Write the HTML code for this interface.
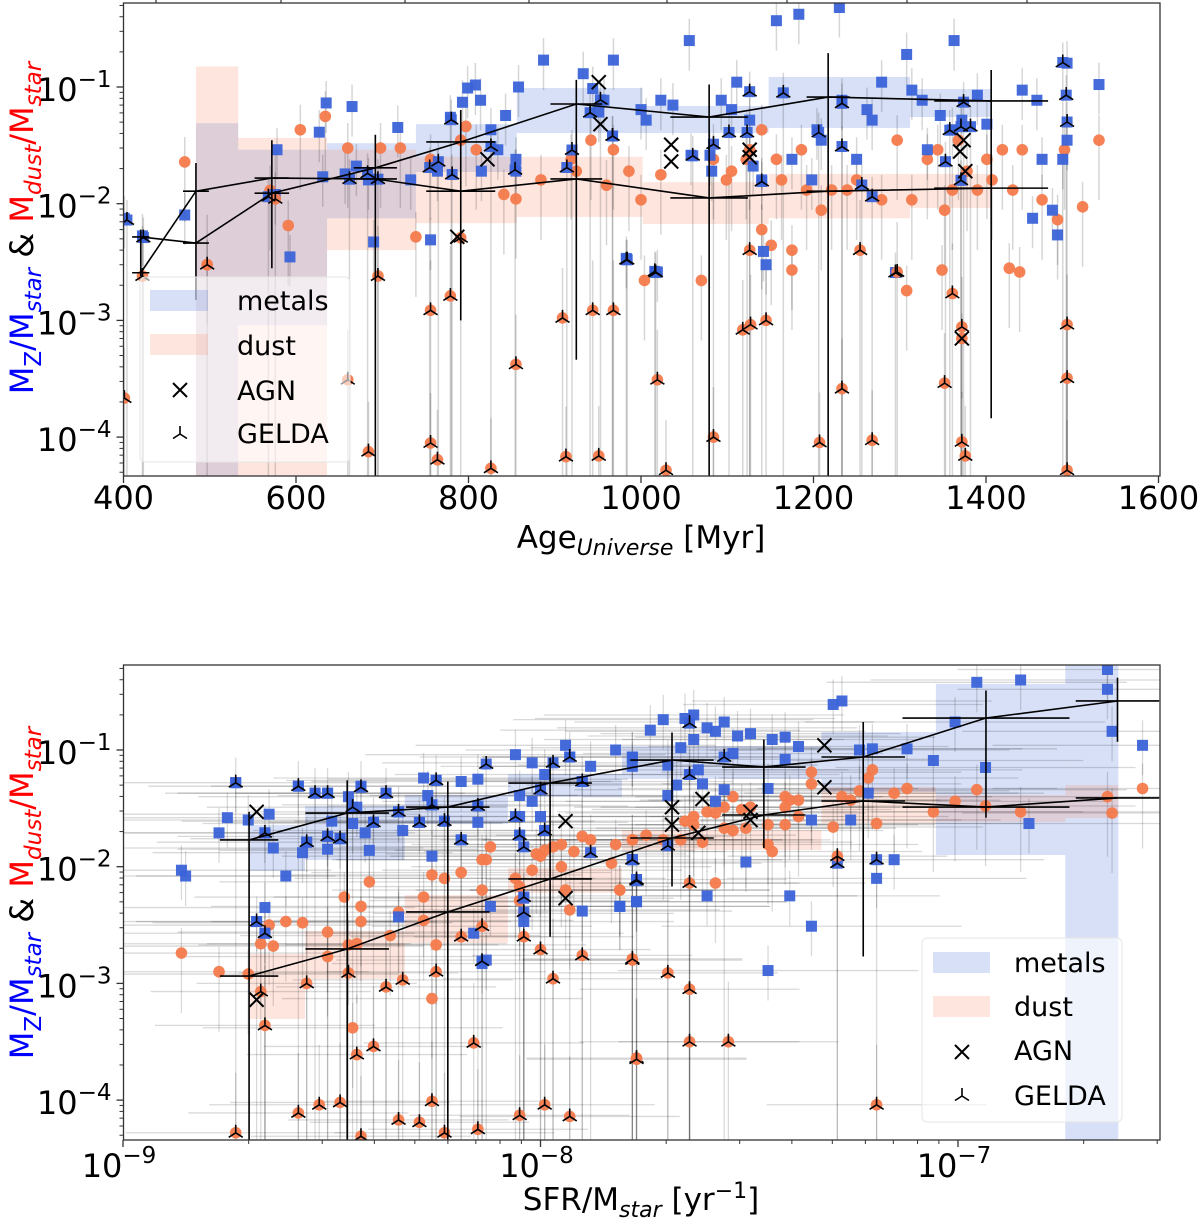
<!DOCTYPE html>
<html><head><meta charset="utf-8">
<style>
html,body{margin:0;padding:0;background:#fff;}
svg{display:block;font-family:"DejaVu Sans","Liberation Sans",sans-serif;}
</style></head>
<body>
<svg id="fig" width="1200" height="1221" viewBox="0 0 1200 1221" xmlns="http://www.w3.org/2000/svg">
<g id="top"></g>
<g id="bot"></g>
</svg>
<script>
// ===== TOP PANEL DATA (age in Myr, ratio values) =====
const topBlueAge=[401,422,471,578,576,593,631,635,657,670,684,690,718,733,756,779,764,793,814,815,826,834,855,855,843,858,944,933,951,957,968,983,1000,1006,1019,1023,1037,1056,1058,1080,1082,1093,1105,1111,1126,1130,1140,1142,1145,1157,1175,1183,1198,1204,1209,1230,1233,1250,1262,1268,1279,1308,1314,1326,1332,1347,1361,1363,1372,1390,1401,1442,1459,1465,1454,1477,1483,1489,1494,1531,1494,627,665,887,799,808];
const topBlueVal=[.0075,.0053,.008,.029,.012,.0035,.017,.073,.018,.021,.016,.0047,.045,.016,.0049,.055,.019,.074,.077,.019,.043,.029,.024,.019,.057,.1,.097,.13,.061,.077,.17,.0034,.064,.052,.0026,.077,.07,.25,.026,.026,.019,.077,.064,.11,.052,.021,.016,.0039,.003,.37,.024,.42,.016,.043,.035,.48,.077,.024,.064,.052,.11,.19,.094,.077,.029,.057,.043,.25,.052,.085,.048,.094,.077,.024,.0075,.0088,.0054,.024,.035,.105,.16,.041,.068,.17,.098,.104];
const topDustAge=[471,497,570,591,605,634,660,698,721,739,756,791,797,809,841,855,884,919,925,942,960,968,986,1000,1004,1023,1070,1084,1099,1122,1140,1151,1163,1175,1186,1192,1221,1239,1250,1279,1297,1314,1332,1344,1349,1361,1372,1378,1390,1401,1407,1419,1427,1431,1442,1465,1483,1491,1512,1531,1105,1126,1140,1157,1175,1209,1308,1352,1439,1368];
const topDustVal=[.0228,.003,.013,.0065,.043,.056,.03,.03,.03,.0052,.024,.035,.046,.029,.012,.011,.016,.024,.019,.035,.0144,.029,.019,.0108,.0022,.0177,.0022,.024,.016,.024,.006,.0044,.016,.004,.029,.0131,.0131,.0131,.016,.0108,.035,.0108,.024,.029,.0027,.0131,.0007,.019,.0131,.024,.016,.029,.0028,.0131,.029,.0108,.0073,.029,.0094,.035,.019,.029,.043,.024,.0027,.0088,.0018,.0088,.0026,.035];
const topGeldaAge=[401,422,497,576,660,684,695,756,756,764,779,791,826,855,909,913,944,951,968,1019,1029,1084,1118,1127,1145,1126,1207,1233,1254,1268,1297,1361,1372,1352,1372,1376,1494,1494,1494];
const topGeldaVal=[.000216,.0024,.003,.011,.00031,.000075,.0024,.00122,.000089,.000064,.00162,.0051,.000054,.00042,.00105,.000068,.00122,.000069,.00122,.00031,.000052,.0001,.00083,.00092,.001,.004,.00009,.00026,.004,.000094,.0026,.0017,.00088,.00029,.000091,.000069,.00092,.00032,.000052];
const topTriAge=[404,423,568,662,683,695,755,765,780,781,826,854,914,920,941,953,967,983,1016,967,984,1017,1060,1084,1102,1123,1126,1140,1165,1206,1233,1233,1256,1268,1295,1358,1371,1382,1374,1371,1353,1489,1493,1494];
const topTriLog=[-2.14,-2.29,-1.94,-1.79,-1.74,-1.79,-1.69,-1.64,-1.28,-1.75,-1.51,-1.71,-1.69,-1.54,-1.22,-1.11,-1.42,-2.48,-2.58,-1.42,-2.48,-2.59,-1.59,-1.49,-1.39,-1.39,-1.04,-1.81,-1.05,-1.39,-1.14,-1.51,-1.84,-1.94,-2.59,-1.37,-1.34,-1.34,-1.13,-1.80,-1.64,-0.79,-1.07,-1.30];
const topAgnAge=[787,822,951,953,1035,1035,1126,1126,1370,1374,1376,1372];
const topAgnVal=[.0052,.024,.11,.048,.032,.023,.029,.025,.028,.035,.019,.0007];
// binned bands
const topBinLo=[484,533,636,739,856,1002,1148,1312];
const topBinHi=[533,636,739,856,1002,1148,1312,1406];
const topMetLo=[.000046,.00091,.0075,.0187,.0403,.0403,.0446,.0553];
const topMetHi=[.049,.029,.033,.048,.098,.0688,.122,.096];
const topDustLo=[.000046,.000046,.004,.0068,.0077,.0067,.0075,.0092];
const topDustHi=[.15,.0366,.029,.0252,.0252,.0153,.018,.018];
// medians
const topMedAge=[420,484,572,692,791,925,1079,1217,1406];
const topMedMet=[.00519,.0046,.0123,.0203,.0338,.0715,.0553,.082,.0759];
const topMedDust=[.00256,.0128,.0166,.0163,.0128,.0163,.0112,.0128,.0136];
const topMedErrLo=[.0024,.0015,.0028,.000046,.001,.00046,.000046,.000046,.000145];
const topMedErrHi=[.006,.0223,.035,.039,.0635,.115,.105,.195,.14];
const topMedXerr=[10,15,20,25,40,30,45,25,66];
const topXTicks=[400,600,800,1000,1200,1400,1600];

// ===== BOTTOM PANEL DATA (log10 sSFR, log10 ratio) =====
const botBlueX=[-8.86,-8.85,-8.77,-8.75,-8.73,-8.70,-8.65,-8.66,-8.64,-8.61,-8.58,-8.57,-8.56,-8.54,-8.51,-8.51,-8.51,-8.48,-8.50,-8.46,-8.44,-8.43,-8.45,-8.42,-8.41,-8.40,-8.37,-8.34,-8.33,-8.29,-8.28,-8.27,-8.25,-8.26,-8.23,-8.26,-8.19,-8.15,-8.15,-8.19,-8.15,-8.06,-8.05,-8.02,-8.05,-8.05,-8.00,-7.99,-8.02,-7.99,-7.94,-7.93,-7.90,-7.88,-7.82,-7.78,-7.78,-8.66,-8.68,-8.66,-8.12,-8.13,-8.14,-7.81,-8.04,-8.04,-7.90,-7.77,-7.77,-8.34,-8.16,
-7.706,-7.654,-7.633,-7.601,-7.581,-7.560,-7.528,-7.497,-7.737,-7.664,-7.633,-7.78,-7.78,-7.695,-7.539,-7.643,-7.622,-7.674,-7.612,-7.560,-7.695,-7.581,-7.445,-7.414,-7.382,-7.414,-7.455,-7.299,-7.278,-7.236,-7.205,-7.122,-7.059,-7.007,-6.955,-6.850,-6.642,-6.642,-6.631,-6.558,-6.934,-7.215,-7.351,-7.257,-7.508,-7.403,-7.351,-7.455,-7.601,-7.77,-7.81,-7.153,-7.195,-6.830];
const botBlueY=[-2.03,-2.08,-1.71,-1.58,-1.28,-1.60,-1.55,-1.71,-1.84,-2.08,-1.31,-1.88,-1.79,-1.37,-1.37,-1.85,-1.74,-1.76,-1.61,-1.40,-1.49,-1.31,-1.63,-1.71,-1.86,-1.62,-1.37,-1.53,-1.69,-1.62,-1.24,-1.39,-1.26,-1.47,-1.61,-1.91,-1.27,-1.25,-1.62,-1.77,-1.48,-1.04,-1.39,-1.44,-1.57,-1.73,-1.57,-1.69,-1.11,-1.21,-0.96,-1.06,-1.27,-1.14,-1.00,-1.06,-1.94,-2.35,-2.47,-2.57,-2.34,-2.80,-2.83,-2.34,-2.27,-2.47,-2.38,-2.11,-2.30,-2.43,-2.57,
-0.74,-0.73,-0.70,-0.81,-0.84,-0.76,-0.88,-0.86,-0.83,-0.98,-0.91,-1.06,-1.14,-1.13,-1.03,-1.21,-1.17,-1.30,-1.29,-1.34,-1.39,-1.44,-0.91,-0.89,-0.97,-1.08,-1.33,-0.61,-0.58,-1.00,-0.99,-0.99,-1.09,-0.76,-0.42,-0.40,-0.31,-0.48,-0.84,-0.96,-1.15,-1.37,-1.60,-1.60,-1.96,-2.25,-2.51,-2.89,-2.25,-2.30,-2.34,-1.94,-2.10,-1.63];
const botDustX=[-8.86,-8.77,-8.70,-8.67,-8.64,-8.65,-8.61,-8.57,-8.51,-8.51,-8.47,-8.46,-8.44,-8.43,-8.43,-8.41,-8.36,-8.34,-8.28,-8.28,-8.26,-8.25,-8.26,-8.23,-8.19,-8.14,-8.14,-8.13,-8.12,-8.06,-8.05,-8.02,-8.01,-7.99,-7.97,-7.95,-7.94,-7.95,-7.90,-7.88,-7.92,-7.82,-7.83,-7.81,-7.78,-7.93,-8.05,-8.04,-8.45,-8.00,
-7.78,-7.747,-7.706,-7.664,-7.633,-7.601,-7.581,-7.560,-7.539,-7.518,-7.560,-7.539,-7.654,-7.633,-7.612,-7.497,-7.508,-7.455,-7.414,-7.414,-7.403,-7.382,-7.382,-7.414,-7.455,-7.445,-7.351,-7.351,-7.299,-7.278,-7.257,-7.236,-7.215,-7.205,-7.195,-7.153,-7.122,-7.059,-7.007,-6.955,-6.934,-6.850,-6.642,-6.631,-6.558,-7.581,-7.81];
const botDustY=[-2.74,-2.90,-2.92,-2.66,-2.68,-2.50,-2.47,-2.48,-2.77,-2.56,-2.26,-2.67,-2.66,-2.47,-2.34,-2.13,-2.59,-2.39,-2.26,-2.46,-2.07,-2.67,-3.13,-2.10,-2.05,-2.20,-1.94,-1.94,-1.83,-2.10,-2.17,-2.03,-1.89,-1.86,-1.83,-2.00,-2.20,-1.81,-1.74,-1.77,-1.87,-1.81,-1.97,-2.20,-1.77,-2.37,-2.29,-2.40,-3.38,-1.91,
-1.77,-1.73,-1.77,-1.77,-1.57,-1.53,-1.54,-1.49,-1.40,-1.51,-1.67,-1.69,-1.61,-1.64,-1.79,-1.49,-1.67,-1.64,-1.64,-1.40,-1.43,-1.43,-1.57,-1.49,-1.81,-1.87,-1.19,-1.29,-1.66,-1.40,-1.43,-1.35,-1.24,-1.17,-1.63,-1.37,-1.33,-1.53,-1.44,-1.34,-1.48,-1.53,-1.40,-1.54,-1.33,-2.14,-2.20];
const botGeldaX=[-8.73,-8.66,-8.67,-8.58,-8.56,-8.53,-8.48,-8.46,-8.44,-8.40,-8.37,-8.34,-8.33,-8.29,-8.26,-8.25,-8.23,-8.16,-8.15,-8.05,-8.04,-8.00,-7.99,-7.97,-7.93,-7.90,-7.78,-7.77,-8.14,-8.19,-8.43,-7.78,-7.695,-7.643,-7.643,-7.550,-7.77,-7.643,-7.195,-7.289];
const botGeldaY=[-4.28,-3.36,-3.07,-4.11,-3.00,-4.04,-4.02,-2.91,-3.61,-3.54,-3.03,-4.17,-2.97,-4.19,-4.01,-2.90,-4.28,-3.51,-4.25,-4.13,-2.60,-2.71,-4.04,-2.96,-4.14,-2.76,-2.80,-3.64,-2.51,-2.60,-4.31,-2.79,-2.91,-3.05,-3.50,-3.50,-3.65,-2.14,-4.04,-1.91];
const botTriX=[-8.73,-8.58,-8.54,-8.51,-8.43,-8.37,-8.45,-8.34,-8.40,-8.29,-8.25,-8.26,-8.23,-8.15,-8.13,-8.19,-8.06,-8.05,-7.99,-7.97,-7.93,-8.00,-7.90,-7.88,-7.78,-7.77,-8.66,-8.56,-8.51,-8.48,-8.68,-8.66,-8.04,-8.14,-8.04,-8.04,-7.643,-7.560,-7.643,-7.78,-7.77,-7.289,-7.195,-7.695];
const botTriY=[-1.28,-1.31,-1.37,-1.37,-1.32,-1.37,-1.49,-1.53,-1.62,-1.62,-1.26,-1.47,-1.61,-1.48,-1.12,-1.77,-1.57,-1.73,-1.69,-1.11,-1.06,-1.34,-1.27,-1.88,-1.94,-2.11,-1.71,-1.79,-1.74,-1.76,-2.47,-2.57,-1.83,-2.81,-2.26,-2.39,-0.77,-1.06,-1.21,-1.94,-2.12,-1.97,-1.94,-1.82];
const botAgnX=[-8.68,-8.68,-7.94,-7.94,-7.320,-7.320,-7.685,-7.612,-7.685,-7.622,-7.497,-7.497];
const botAgnY=[-1.53,-3.14,-1.61,-2.27,-0.96,-1.32,-1.49,-1.42,-1.64,-1.71,-1.53,-1.60];
const botBinLo=[-8.696,-8.564,-8.325,-8.078,-7.805,-7.327,-7.053,-6.743];
const botBinHi=[-8.564,-8.325,-8.078,-7.805,-7.327,-7.053,-6.743,-6.616];
const botMetLo=[-2.037,-1.943,-1.634,-1.403,-1.249,-1.36,-1.9,-4.342];
const botMetHi=[-1.643,-1.48,-1.386,-1.206,-0.966,-0.846,-0.434,-0.272];
const botDustLo=[-3.305,-2.962,-2.654,-2.225,-1.857,-1.626,-1.617,-1.583];
const botDustHi=[-2.748,-2.551,-2.243,-2.011,-1.686,-1.317,-1.386,-1.3];
const botMedX=[-8.698,-8.463,-8.222,-7.977,-7.685,-7.465,-7.227,-6.933,-6.618];
const botMedMet=[-1.771,-1.54,-1.489,-1.283,-1.086,-1.146,-1.06,-0.726,-0.58];
const botMedDust=[-2.937,-2.705,-2.388,-2.105,-1.754,-1.557,-1.437,-1.489,-1.411];
const botMedErrLo=[-4.34,-4.34,-4.34,-2.6,-2.17,-1.84,-2.77,-1.58,-0.93];
const botMedErrHi=[-1.53,-1.26,-1.27,-1.07,-0.85,-0.91,-0.76,-0.49,-0.38];
const botMedXerr=[0.07,0.1,0.1,0.1,0.1,0.1,0.1,0.2,0.1];
const botXTicks=[-9,-8,-7];
const yTicks=[-1,-2,-3,-4];

const NS="http://www.w3.org/2000/svg";
function mk(parent,tag,attrs){const e=document.createElementNS(NS,tag);for(const k in attrs)e.setAttribute(k,attrs[k]);parent.appendChild(e);return e;}

const BLUE="#3b63d9",ORANGE="#f47a4c";
const BANDB="rgba(100,135,225,0.26)",BANDO="rgba(250,140,110,0.22)";

function drawPanel(g,cfg){
  const {L,R,T,B}=cfg;
  const cid="clip"+cfg.id;
  const defs=mk(g,"defs",{});const cp=mk(defs,"clipPath",{id:cid});mk(cp,"rect",{x:L,y:T,width:R-L,height:B-T});
  const plot=mk(g,"g",{"clip-path":"url(#"+cid+")"});
  
  
  return plot;
}
function tri(parent,x,y){
  const t=mk(parent,"path",{d:`M${x},${y}L${x},${y-8}M${x},${y}L${x-7},${y+4.5}M${x},${y}L${x+7},${y+4.5}`,stroke:"#000","stroke-width":1.6,fill:"none"});
  
  
}
function cross(parent,x,y){
  const c=mk(parent,"path",{d:`M${x-7},${y-7}L${x+7},${y+7}M${x-7},${y+7}L${x+7},${y-7}`,stroke:"#000","stroke-width":2,fill:"none"});
  
  
}
function sq(parent,x,y){
  const s=mk(parent,"rect",{x:x-5.5,y:y-5.5,width:11,height:11,fill:BLUE,"fill-opacity":0.95});
  
  
}
function circ(parent,x,y){
  const c=mk(parent,"circle",{cx:x,cy:y,r:5.8,fill:ORANGE,"fill-opacity":0.95});
  
  
}
function line(parent,x1,y1,x2,y2,st,w){return mk(parent,"line",{x1,y1,x2,y2,stroke:st,"stroke-width":w});}
function frameAxes(g,L,R,T,B){
  const f=mk(g,"rect",{x:L,y:T,width:R-L,height:B-T,fill:"none",stroke:"#333","stroke-width":1.3});
  
  
}
function yAxis(g,L,ys,T,B){
  for(let d=-5;d<=0;d++){
    for(let m=2;m<=9;m++){const v=d+Math.log10(m);const y=ys(v);if(y>T&&y<B){line(g,L-4,y,L,y,"#333",1);}}
  }
  yTicks.forEach(t=>{const y=ys(t);line(g,L-7,y,L,y,"#333",1.3);
    const tx=mk(g,"text",{x:L-12,y:y+14,"text-anchor":"end","font-size":32});
    
    
    const a=mk(tx,"tspan",{});a.textContent="10";
    const b=mk(tx,"tspan",{dy:-14,"font-size":23});b.textContent="\u2212"+(-t);
  });
}
function yTitle(g,cx,cy){
  const tx=mk(g,"text",{x:0,y:0,"text-anchor":"middle","font-size":32,transform:`translate(${cx},${cy}) rotate(-90)`});
  
  
  const parts=[["M","#0000ff",0,0],["Z","#0000ff",8,1],["/M","#0000ff",-8,0],["star","#0000ff",8,2],[" & ","#000",-8,0],["M","#ff0000",0,0],["dust","#ff0000",8,2],["/M","#ff0000",-8,0],["star","#ff0000",8,2]];
  parts.forEach(p=>{const s=mk(tx,"tspan",{fill:p[1],dy:p[2]});if(p[3]){s.setAttribute("font-size",23);}if(p[3]===2)s.setAttribute("font-style","italic");s.textContent=p[0];});
}

// ================= TOP =================
(function(){
  const g=document.getElementById("top");
  const L=123.5,R=1160,T=3,B=476;
  const xs=a=>L+(a-400)*172.5/200;
  const ysl=l=>87-(l+1)*116.7;
  const ys=v=>ysl(Math.log10(v));
  const plot=drawPanel(g,{L,R,T,B,id:"t"});
  topBinLo.forEach((lo,i)=>{
    const r1=mk(plot,"rect",{x:xs(lo),width:xs(topBinHi[i])-xs(lo),y:ys(topMetHi[i]),height:ys(topMetLo[i])-ys(topMetHi[i]),fill:BANDB});
    
    
    const r2=mk(plot,"rect",{x:xs(lo),width:xs(topBinHi[i])-xs(lo),y:ys(topDustHi[i]),height:ys(topDustLo[i])-ys(topDustHi[i]),fill:BANDO});
    
    
  });
  const eg=mk(plot,"g",{stroke:"rgba(0,0,0,0.16)","stroke-width":1.5});
  topBlueAge.forEach((a,i)=>{const y=ys(topBlueVal[i]);line(eg,xs(a),y-22,xs(a),y+30);});
  topDustAge.forEach((a,i)=>{const y=ys(topDustVal[i]);line(eg,xs(a),y-25,xs(a),y+60);});
  topGeldaAge.forEach((a,i)=>{const y=ys(topGeldaVal[i]);line(eg,xs(a),y-50,xs(a),B);});
  topTriAge.forEach((a,i)=>{const y=ysl(topTriLog[i]);line(eg,xs(a),y-20,xs(a),B);});
  topDustAge.forEach((a,i)=>circ(plot,xs(a),ys(topDustVal[i])));
  topBlueAge.forEach((a,i)=>sq(plot,xs(a),ys(topBlueVal[i])));
  topTriAge.forEach((a,i)=>sq(plot,xs(a),ysl(topTriLog[i])));
  topGeldaAge.forEach((a,i)=>{circ(plot,xs(a),ys(topGeldaVal[i]));tri(plot,xs(a),ys(topGeldaVal[i]));});
  topTriAge.forEach((a,i)=>tri(plot,xs(a),ysl(topTriLog[i])));
  topAgnAge.forEach((a,i)=>cross(plot,xs(a),ys(topAgnVal[i])));
  const mg=mk(plot,"g",{stroke:"#000","stroke-width":1.6,fill:"none"});
  
  
  topMedAge.forEach((a,i)=>{
    line(mg,xs(a),ys(topMedErrHi[i]),xs(a),ys(topMedErrLo[i]));
    line(mg,xs(a-topMedXerr[i]),ys(topMedMet[i]),xs(a+topMedXerr[i]),ys(topMedMet[i]));
    line(mg,xs(a-topMedXerr[i]),ys(topMedDust[i]),xs(a+topMedXerr[i]),ys(topMedDust[i]));
  });
  mk(mg,"polyline",{points:topMedAge.map((a,i)=>xs(a)+","+ys(topMedMet[i])).join(" ")});
  mk(mg,"polyline",{points:topMedAge.map((a,i)=>xs(a)+","+ys(topMedDust[i])).join(" ")});
  frameAxes(g,L,R,T,B);
  topXTicks.forEach(t=>{const x=xs(t);line(g,x,B,x,B+7,"#333",1.3);
    const tx=mk(g,"text",{x:x,y:B+33,"text-anchor":"middle","font-size":32});tx.textContent=t;
    
    });
  [156,281,405,529,667,787,907,1027].forEach(x=>line(g,x,T,x,T-4,"#333",1.2));
  yAxis(g,L,ysl,T,B);
  const xl=mk(g,"text",{x:641,y:548,"text-anchor":"middle","font-size":31});
  
  
  xl.innerHTML='Age<tspan font-size="22" font-style="italic" dy="7">Universe</tspan><tspan dy="-7"> [Myr]</tspan>';
  yTitle(g,33,228);
  const lg=mk(g,"g",{});
  
  
  mk(lg,"rect",{x:140,y:277,width:210,height:185,rx:5,fill:"rgba(255,255,255,0.6)",stroke:"#e6e6e6"});
  mk(lg,"rect",{x:150,y:290,width:58,height:21,fill:BANDB});
  mk(lg,"rect",{x:150,y:334,width:58,height:21,fill:BANDO});
  cross(lg,180,390);tri(lg,180,434);
  [["metals",300],["dust",345],["AGN",390],["GELDA",433]].forEach(e=>{const t=mk(lg,"text",{x:237,y:e[1]+10,"font-size":27});t.textContent=e[0];
    
    });
})();

// ================= BOTTOM =================
(function(){
  const g=document.getElementById("bot");
  const L=123.5,R=1160,T=665,B=1140;
  const xs=l=>123+(l+9)*417.5;
  const ys=l=>750-(l+1)*116.7;
  const plot=drawPanel(g,{L,R,T,B,id:"b"});
  botBinLo.forEach((lo,i)=>{
    const r1=mk(plot,"rect",{x:xs(lo),width:xs(botBinHi[i])-xs(lo),y:ys(botMetHi[i]),height:ys(botMetLo[i])-ys(botMetHi[i]),fill:BANDB});
    
    
    const r2=mk(plot,"rect",{x:xs(lo),width:xs(botBinHi[i])-xs(lo),y:ys(botDustHi[i]),height:ys(botDustLo[i])-ys(botDustHi[i]),fill:BANDO});
    
    
  });
  const eg=mk(plot,"g",{stroke:"rgba(0,0,0,0.15)","stroke-width":1.3});
  botBlueX.forEach((x,i)=>{const px=xs(x),py=ys(botBlueY[i]);line(eg,px-150,py,px+150,py);line(eg,px,py-25,px,py+30);});
  botDustX.forEach((x,i)=>{const px=xs(x),py=ys(botDustY[i]);line(eg,px-150,py,px+150,py);line(eg,px,py-25,px,py+60);});
  botGeldaX.forEach((x,i)=>{const px=xs(x),py=ys(botGeldaY[i]);line(eg,px-110,py,px+110,py);line(eg,px,py-60,px,B);});
  botTriX.forEach((x,i)=>{const px=xs(x),py=ys(botTriY[i]);line(eg,px,py,px,B);});
  botDustX.forEach((x,i)=>circ(plot,xs(x),ys(botDustY[i])));
  botBlueX.forEach((x,i)=>sq(plot,xs(x),ys(botBlueY[i])));
  botTriX.forEach((x,i)=>sq(plot,xs(x),ys(botTriY[i])));
  botGeldaX.forEach((x,i)=>{circ(plot,xs(x),ys(botGeldaY[i]));tri(plot,xs(x),ys(botGeldaY[i]));});
  botTriX.forEach((x,i)=>tri(plot,xs(x),ys(botTriY[i])));
  botAgnX.forEach((x,i)=>cross(plot,xs(x),ys(botAgnY[i])));
  const mg=mk(plot,"g",{stroke:"#000","stroke-width":1.6,fill:"none"});
  
  
  botMedX.forEach((x,i)=>{
    line(mg,xs(x),ys(botMedErrHi[i]),xs(x),ys(botMedErrLo[i]));
    line(mg,xs(x-botMedXerr[i]),ys(botMedMet[i]),xs(x+botMedXerr[i]),ys(botMedMet[i]));
    line(mg,xs(x-botMedXerr[i]),ys(botMedDust[i]),xs(x+botMedXerr[i]),ys(botMedDust[i]));
  });
  mk(mg,"polyline",{points:botMedX.map((x,i)=>xs(x)+","+ys(botMedMet[i])).join(" ")});
  mk(mg,"polyline",{points:botMedX.map((x,i)=>xs(x)+","+ys(botMedDust[i])).join(" ")});
  frameAxes(g,L,R,T,B);
  for(let d=-9;d<=-7;d++){for(let m=2;m<=9;m++){const x=xs(d+Math.log10(m));if(x<R)line(g,x,B,x,B+4,"#333",1);}}
  botXTicks.forEach(t=>{const x=xs(t);line(g,x,B,x,B+7,"#333",1.3);
    const tx=mk(g,"text",{x:x-4,y:B+37,"text-anchor":"middle","font-size":32});
    
    
    const a=mk(tx,"tspan",{});a.textContent="10";const b=mk(tx,"tspan",{dy:-14,"font-size":23});b.textContent="\u2212"+(-t);});
  yAxis(g,L,ys,T,B);
  const xl=mk(g,"text",{x:641,y:1210,"text-anchor":"middle","font-size":31});
  
  
  xl.innerHTML='SFR/M<tspan font-size="22" font-style="italic" dy="7">star</tspan><tspan dy="-7"> [yr</tspan><tspan font-size="22" dy="-12">\u22121</tspan><tspan dy="12">]</tspan>';
  yTitle(g,33,893);
  const lg=mk(g,"g",{});
  
  
  mk(lg,"rect",{x:922,y:938,width:200,height:184,rx:5,fill:"rgba(255,255,255,0.6)",stroke:"#e6e6e6"});
  mk(lg,"rect",{x:933,y:952,width:57,height:21,fill:BANDB});
  mk(lg,"rect",{x:933,y:996,width:57,height:21,fill:BANDO});
  cross(lg,962,1052);tri(lg,962,1096);
  [["metals",962],["dust",1006],["AGN",1050],["GELDA",1095]].forEach(e=>{const t=mk(lg,"text",{x:1014,y:e[1]+10,"font-size":27});t.textContent=e[0];
    
    });
})();
</script>
</body></html>
